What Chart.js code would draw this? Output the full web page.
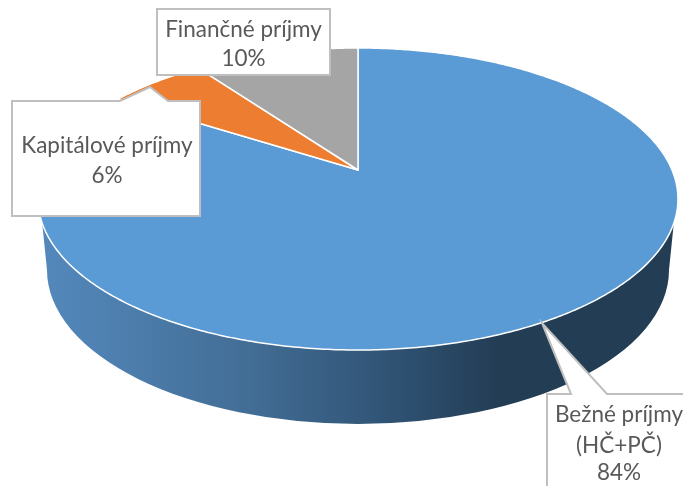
<!DOCTYPE html>
<html>
<head>
<meta charset="utf-8">
<title>Príjmy</title>
<script src="https://cdn.jsdelivr.net/npm/chart.js@4/dist/chart.umd.js"></script>
<style>
    html, body { margin: 0; padding: 0; background: #fff; }
    #wrap { width: 683px; height: 486px; }
</style>
</head>
<body>
<div id="wrap"><canvas id="pie"></canvas></div>
<script>
const categories = ['Bežné príjmy', 'Kapitálové príjmy', 'Finančné príjmy'];
const categoryNotes = ['(HČ+PČ)', '', ''];
const shares = [84, 6, 10];
const sliceColors = ['#5b9bd5', '#ed7d31', '#a5a5a5'];

const TEXT_COLOR = '#595959';
const BORDER_COLOR = '#bfbfbf';
const LABEL_FONT = '22.5px Lato, "Open Sans", sans-serif';

// perspective of the top face: unit circle -> screen
const TOP = { cx: 358, cy: 170, a: 112.8, c: -0.192, d: 314 };
// bottom rim of the side wall
const RIM = { cx: 358, cy: 270, rx: 311, ry: 154 };

function project(angle) {
    const u = Math.cos(angle);
    const v = Math.sin(angle);
    const w = 1 + TOP.c * v;
    return { x: TOP.cx + TOP.d * u / w, y: (TOP.cy + TOP.a * v) / w };
}

function drawSide(ctx) {
    const gradient = ctx.createLinearGradient(40, 0, 675, 0);
    gradient.addColorStop(0, '#5489bd');
    gradient.addColorStop(0.33, '#426d95');
    gradient.addColorStop(0.56, '#2f5273');
    gradient.addColorStop(0.72, '#233d54');
    gradient.addColorStop(1, '#233d54');

    ctx.beginPath();
    ctx.moveTo(RIM.cx - RIM.rx, RIM.cy);
    ctx.ellipse(RIM.cx, RIM.cy, RIM.rx, RIM.ry, 0, Math.PI, 0, true);
    // back along the front edge of the top face
    for (let deg = 20; deg <= 160; deg += 1) {
        const p = project(deg * Math.PI / 180);
        ctx.lineTo(p.x, p.y);
    }
    ctx.closePath();
    ctx.fillStyle = gradient;
    ctx.fill();
}

class Pie3dController extends Chart.PieController {
    static id = 'pie3d';

    draw() {
        const ctx = this.chart.ctx;
        ctx.save();
        drawSide(ctx);
        this.getMeta().data.forEach((arc, i) => {
            const { startAngle, endAngle } = arc.getProps(['startAngle', 'endAngle'], true);
            ctx.beginPath();
            ctx.moveTo(TOP.cx, TOP.cy);
            const steps = Math.ceil((endAngle - startAngle) / 0.01);
            for (let s = 0; s <= steps; s++) {
                const p = project(startAngle + (endAngle - startAngle) * s / steps);
                ctx.lineTo(p.x, p.y);
            }
            ctx.closePath();
            ctx.fillStyle = sliceColors[i];
            ctx.fill();
            ctx.strokeStyle = '#fff';
            ctx.lineWidth = 1.5;
            ctx.lineJoin = 'round';
            ctx.stroke();
        });
        ctx.restore();
    }
}
Chart.register(Pie3dController, Chart.ArcElement);

// outline first, then text lines centered on x
const callouts = [
    {
        index: 2, x: 243.5, baselines: [37, 66],
        outline: [[157, 9], [330, 9], [330, 75], [157, 75]], closed: true
    },
    {
        index: 1, x: 107, baselines: [153, 183],
        outline: [[12, 101], [120, 101], [150, 87], [168, 101], [200, 101], [200, 216], [12, 216]], closed: true
    },
    {
        index: 0, x: 619, baselines: [422, 453, 480],
        outline: [[547, 500], [547, 394], [571, 394], [542, 323], [607, 394], [690, 394], [690, 500]], closed: false
    }
];

const calloutPlugin = {
    id: 'callouts',
    afterDraw(chart) {
        const ctx = chart.ctx;
        ctx.save();
        callouts.forEach((box) => {
            ctx.beginPath();
            box.outline.forEach((pt, i) => {
                if (i === 0) ctx.moveTo(pt[0], pt[1]);
                else ctx.lineTo(pt[0], pt[1]);
            });
            if (box.closed) ctx.closePath();
            ctx.fillStyle = '#fff';
            ctx.fill();
            ctx.strokeStyle = BORDER_COLOR;
            ctx.lineWidth = 2;
            ctx.stroke();

            const lines = [categories[box.index]];
            if (categoryNotes[box.index]) lines.push(categoryNotes[box.index]);
            lines.push(shares[box.index] + '%');
            ctx.fillStyle = TEXT_COLOR;
            ctx.font = LABEL_FONT;
            ctx.textAlign = 'center';
            ctx.textBaseline = 'alphabetic';
            lines.forEach((line, i) => ctx.fillText(line, box.x, box.baselines[i]));
        });
        ctx.restore();
    }
};

new Chart(document.getElementById('pie'), {
    type: 'pie3d',
    data: {
        labels: categories,
        datasets: [{ data: shares, backgroundColor: sliceColors, borderWidth: 0 }],
    },
    options: {
        responsive: true,
        maintainAspectRatio: false,
        animation: false,
        plugins: {
            legend: { display: false },
            tooltip: { enabled: false },
        },
    },
    plugins: [calloutPlugin],
});
</script>
</body>
</html>
